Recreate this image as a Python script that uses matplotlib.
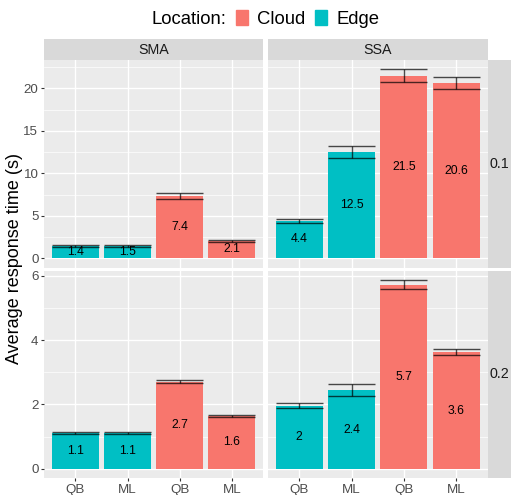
import matplotlib.pyplot as plt
from matplotlib.patches import Patch
from matplotlib.ticker import MultipleLocator

plt.rcParams['font.family'] = ['Liberation Sans', 'DejaVu Sans']

# data
locations = ['Edge', 'Edge', 'Cloud', 'Cloud']
methods = ['QB', 'ML', 'QB', 'ML']
apps = ['SMA', 'SSA']
rates = ['0.1', '0.2']

sma_01_mean = [1.42, 1.48, 7.38, 2.07]
sma_01_err = [0.12, 0.10, 0.35, 0.10]
ssa_01_mean = [4.42, 12.54, 21.52, 20.65]
ssa_01_err = [0.25, 0.73, 0.72, 0.68]
sma_02_mean = [1.11, 1.11, 2.71, 1.64]
sma_02_err = [0.04, 0.04, 0.04, 0.04]
ssa_02_mean = [1.96, 2.44, 5.72, 3.62]
ssa_02_err = [0.07, 0.19, 0.14, 0.09]

colors = {'Cloud': '#F8766D', 'Edge': '#00BFC4'}

panels = {
    ('0.1', 'SMA'): (sma_01_mean, sma_01_err),
    ('0.1', 'SSA'): (ssa_01_mean, ssa_01_err),
    ('0.2', 'SMA'): (sma_02_mean, sma_02_err),
    ('0.2', 'SSA'): (ssa_02_mean, ssa_02_err),
}
major_step = {'0.1': 5, '0.2': 2}

W, H = 511, 495
fig = plt.figure(figsize=(W / 100, H / 100), dpi=100)


def px_axes(x0, y0, x1, y1):
    # pixel box (top-left origin) -> figure axes
    return fig.add_axes([x0 / W, 1 - y1 / H, (x1 - x0) / W, (y1 - y0) / H])


col_x = {'SMA': (44, 263.3), 'SSA': (267.7, 487.7)}
row_y = {'0.1': (60, 267.7), '0.2': (270.7, 478.3)}

for rate in rates:
    # free y scale per row
    top = max(m + e for a in apps for m, e in zip(*panels[(rate, a)]))
    ylim = (-0.05 * top, 1.05 * top)
    for app in apps:
        means, errs = panels[(rate, app)]
        x0, x1 = col_x[app]
        y0, y1 = row_y[rate]
        ax = px_axes(x0, y0, x1, y1)
        ax.set_facecolor('#EBEBEB')
        xs = list(range(1, len(means) + 1))
        ax.bar(xs, means, width=0.9, color=[colors[l] for l in locations], zorder=2)
        lo = [m - e for m, e in zip(means, errs)]
        hi = [m + e for m, e in zip(means, errs)]
        ax.vlines(xs, lo, hi, color='black', alpha=0.7, lw=1.0, zorder=3)
        ax.hlines(lo, [x - 0.45 for x in xs], [x + 0.45 for x in xs],
                  color='black', alpha=0.7, lw=1.0, zorder=3)
        ax.hlines(hi, [x - 0.45 for x in xs], [x + 0.45 for x in xs],
                  color='black', alpha=0.7, lw=1.0, zorder=3)
        for x, m in zip(xs, means):
            ax.text(x, m / 2, f"{round(m, 1):g}", ha='center', va='center',
                    fontsize=8.8, color='black', zorder=4)
        ax.set_xlim(0.4, 4.6)
        ax.set_ylim(*ylim)
        ax.yaxis.set_major_locator(MultipleLocator(major_step[rate]))
        ax.yaxis.set_minor_locator(MultipleLocator(major_step[rate] / 2))
        ax.set_xticks(xs)
        ax.grid(True, which='major', color='white', lw=1.0, zorder=0)
        ax.grid(True, which='minor', axis='y', color='white', lw=0.5, zorder=0)
        ax.set_axisbelow(True)
        for s in ax.spines.values():
            s.set_visible(False)
        ax.tick_params(which='minor', length=0)
        ax.tick_params(which='major', length=2.5, width=0.8, color='#333333',
                       labelsize=9.6, labelcolor='#4D4D4D', pad=1.5)
        if rate == '0.2':
            ax.set_xticklabels(methods)
        else:
            ax.tick_params(axis='x', length=0, labelbottom=False)
        if app == 'SSA':
            ax.tick_params(axis='y', length=0, labelleft=False)

        # top strips
        if rate == '0.1':
            sax = px_axes(x0, 39.3, x1, 60)
            sax.set_facecolor('#D9D9D9')
            sax.set_xticks([])
            sax.set_yticks([])
            for s in sax.spines.values():
                s.set_visible(False)
            sax.text(0.5, 0.5, app, ha='center', va='center', fontsize=10.3,
                     color='#1A1A1A', transform=sax.transAxes)

    # right strips
    y0, y1 = row_y[rate]
    rax = px_axes(487.7, y0, 520, y1)
    rax.set_facecolor('#D9D9D9')
    rax.set_xticks([])
    rax.set_yticks([])
    for s in rax.spines.values():
        s.set_visible(False)
    rax.text(490 / W, 1 - (y0 + y1) / 2 / H, rate, ha='left', va='center',
             fontsize=10.3, color='#1A1A1A', transform=fig.transFigure)

fig.text(15 / W, 1 - 259 / H, 'Average response time (s)', rotation=90,
         ha='center', va='center', fontsize=13, color='black')

handles = [Patch(color=colors['Cloud'], label='Cloud'),
           Patch(color=colors['Edge'], label='Edge')]
fig.legend(handles=handles, loc='center', bbox_to_anchor=(307.5 / W, 1 - 19 / H),
           ncol=2, frameon=False, fontsize=13.3, handlelength=0.65,
           handleheight=0.9, handletextpad=0.5, columnspacing=0.55,
           borderpad=0, borderaxespad=0)
fig.text(226 / W, 1 - 19 / H, 'Location:', ha='right', va='center',
         fontsize=13.3, color='black')

fig.savefig('out.png', dpi=100, facecolor='white')
